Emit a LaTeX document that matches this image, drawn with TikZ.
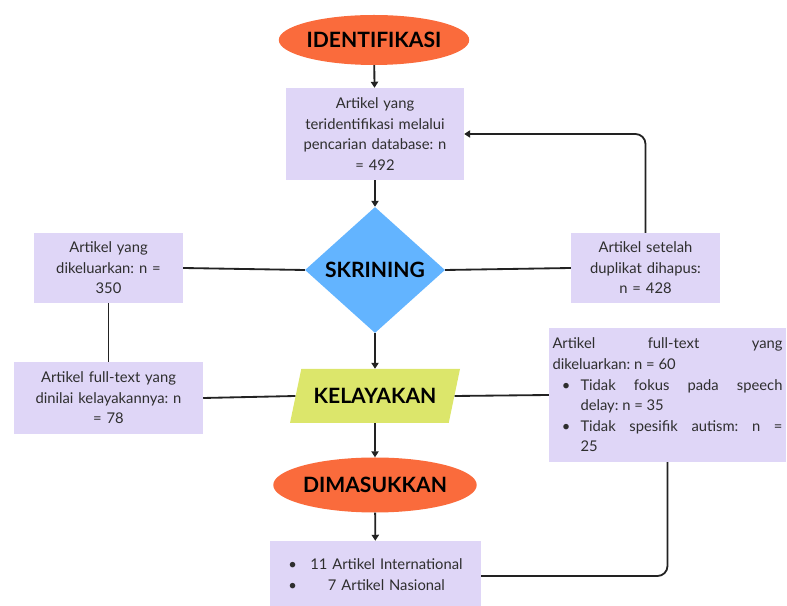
\documentclass[tikz,border=0pt]{standalone}
\usepackage{fontspec}
\setmainfont{Lato}
\usepackage{enumitem}
\usetikzlibrary{shapes.geometric,arrows.meta}
\definecolor{idorange}{HTML}{FA6B3C}
\definecolor{boxlilac}{HTML}{DFD6F7}
\definecolor{skrblue}{HTML}{63B4FF}
\definecolor{kelgreen}{HTML}{DCE66B}
\definecolor{linegray}{HTML}{222222}
\definecolor{textgray}{HTML}{2E2E2E}
\pgfkeys{tikz/mybox/.style={rectangle, fill=boxlilac, inner xsep=0pt, inner ysep=0pt,
                                 align=center, text=textgray,
                                 font=\fontsize{12.6}{17.6}\selectfont\frenchspacing}}
\pgfkeys{tikz/mystage/.style={inner sep=0pt, text=black,
                                 font=\fontsize{18}{20}\selectfont\bfseries}}
\pgfkeys{tikz/myline/.style={line width=0.55mm, draw=linegray}}
\pgfkeys{tikz/myarrow/.style={myline, -{Triangle[length=1.8mm,width=2.2mm]}}}
\begin{document}
\begin{tikzpicture}[x=0.3mm,y=-0.3mm]
                    \useasboundingbox (0,0) rectangle (787,606);
                    \node [mystage, ellipse, fill=idorange, minimum width=54.6mm, minimum height=15mm] (idn) at (374,40) {IDENTIFIKASI};
                    \node [mybox, text width=53.4mm, minimum height=27.6mm] (found) at (375,134) {Artikel yang\\ teridentifikasi melalui\\ pencarian database: n\\ = 492};
                    \node [mystage, diamond, fill=skrblue, minimum width=42mm, minimum height=37.8mm] (skr) at (375,270) {SKRINING};
                    \node [mybox, text width=44.7mm, minimum height=21mm] (excl) at (108.5,268) {Artikel yang\\ dikeluarkan: n =\\ 350};
                    \node [mybox, text width=44.7mm, minimum height=21mm] (dup) at (645.5,268) {Artikel setelah\\ duplikat dihapus:\\ n = 428};
                    \node [mystage, trapezium, trapezium left angle=53.5, trapezium right angle=126.5, trapezium stretches body,
                           fill=kelgreen, minimum width=51mm, minimum height=16.2mm] (kel) at (375,396) {KELAYAKAN};
                    \node [mybox, text width=56.7mm, minimum height=21.6mm] (assess) at (108.5,398) {Artikel full-text yang\\ dinilai kelayakannya: n\\ = 78};
                    \node [mybox, text width=69mm, minimum height=40.2mm, inner xsep=1.05mm, align=justify] (fullexcl) at (667.5,395) {Artikel full-text yang\linebreak dikeluarkan: n = 60
                        \begin{itemize}[leftmargin=8.4mm, labelsep=3mm, itemsep=0pt, topsep=0pt, parsep=0pt, partopsep=0pt]
                            \item Tidak fokus pada speech\linebreak delay: n = 35
                            \item Tidak spesifik autism: n =\linebreak 25
                        \end{itemize}};
                    \node [mystage, ellipse, fill=idorange, minimum width=59.4mm, minimum height=16.5mm] (incl) at (375,485) {DIMASUKKAN};
                    \node [mybox, text width=63.3mm, minimum height=21mm] (final) at (375.5,576) {\begin{tabular}{@{}c@{\hspace{4mm}}c@{}}
                        \textbullet & 11 Artikel International\\
                        \textbullet & 7 Artikel Nasional
                        \end{tabular}};
                        \draw [myarrow] (idn) -- (found);
                        \draw [myarrow] (found) -- (skr);
                        \draw [myarrow] (skr) -- (kel);
                        \draw [myarrow] (kel) -- (incl);
                        \draw [myarrow] (incl) -- (final);
                        \draw [myline] (skr.west) -- (excl.east);
                        \draw [myline] (skr.east) -- (dup.west);
                        \draw [myline] (excl.south) -- (assess.north);
                        \draw [myline] (kel.west) -- (assess.east);
                        \draw [myline] (kel.east) -- (fullexcl.west);
                        \draw [myarrow, rounded corners=3mm] (dup.north) |- (found.east);
                        \draw [myline, rounded corners=3mm] (final.east) -| (fullexcl.south);
                \end{tikzpicture}
\end{document}
